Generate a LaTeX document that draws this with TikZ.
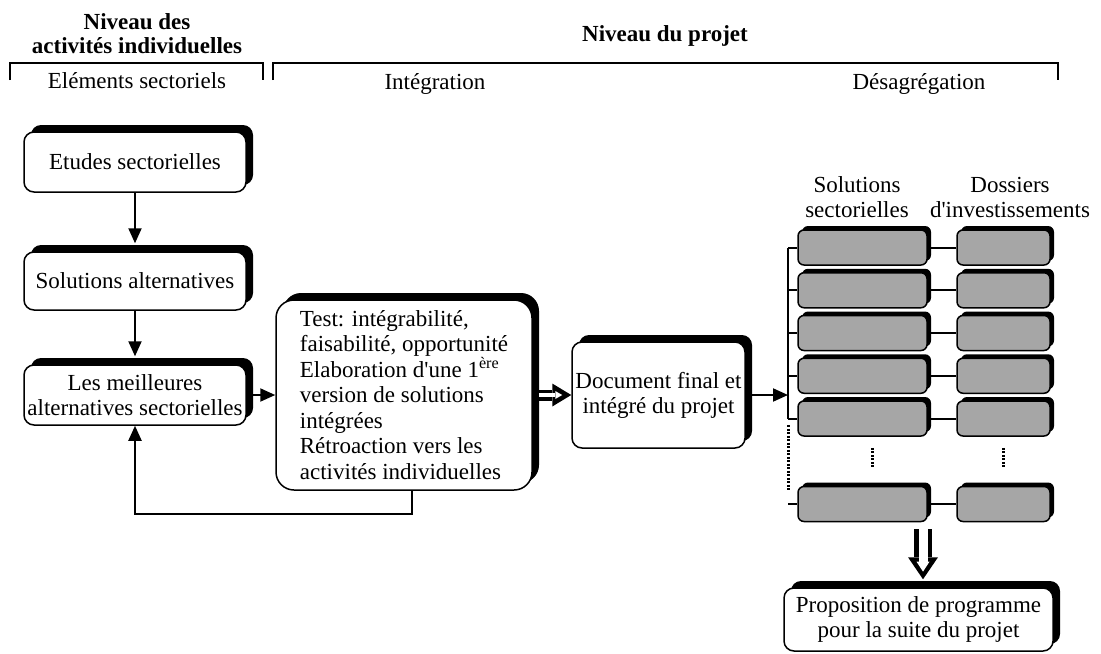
\documentclass[tikz,border=0pt]{standalone}
\usepackage{fontspec}
\setmainfont{Liberation Serif}[Ligatures=TeXOff]
\usetikzlibrary{arrows.meta,shadows}
\definecolor{cellgrey}{RGB}{166,166,166}
\tikzset{>={Triangle[length=7.5pt,width=6.5pt]}}
\tikzset{
  box/.style={draw, line width=0.75pt, fill=white, rounded corners=5pt, align=center,
    drop shadow={shadow xshift=3.5pt, shadow yshift=3.5pt, fill=black, opacity=1}},
  cell/.style={draw, line width=0.75pt, fill=cellgrey, rounded corners=3pt, minimum height=17.5pt,
    drop shadow={shadow xshift=2pt, shadow yshift=2pt, fill=black, opacity=1}},
  link/.style={line width=1pt},
  bracket/.style={line width=1.1pt},
  gap/.style={line width=1.5pt, dash pattern=on 1pt off 0.75pt},
  hdr/.style={font=\fontsize{11.5}{12}\selectfont\bfseries, align=center},
  dblarrow/.style={line width=5.5pt, -{Triangle[length=9.5pt,width=11.5pt,line width=0pt]}, shorten <=3pt,
    postaction={draw=white, line width=2pt, -{Triangle[length=3.5pt,width=4pt,line width=0pt]},
      shorten <=3pt, shorten >=4.5pt}},
  bigdbl/.style={line width=9pt, -{Triangle[length=11pt,width=15pt,line width=0pt]}, shorten >=4pt,
    postaction={draw=white, line width=4.5pt, -{Triangle[length=5pt,width=6.5pt,line width=0pt]},
      shorten >=7.8pt}}
}

\begin{document}
\begin{tikzpicture}[x=0.5pt, y=-0.5pt, font=\fontsize{11.5}{12.5}\selectfont]
\useasboundingbox (0,0) rectangle (1101,653);
% levels
\node[hdr] (lvlind) at (137,34) {Niveau des\\activités individuelles};
\node[hdr, anchor=base] (lvlproj) at (665,41) {Niveau du projet};
\draw[bracket] (10,80) -- (10,63) -- (263,63) -- (263,80);
\draw[bracket] (273,80) -- (273,63) -- (1058,63) -- (1058,80);
\node[anchor=base] (sect) at (137,88) {Eléments sectoriels};
\node[anchor=base] (integ) at (435,89) {Intégration};
\node[anchor=base] (desag) at (919,89) {Désagrégation};

% individual activities
\node[box, minimum width=111pt, minimum height=30pt] (etudes) at (135,162) {Etudes sectorielles};
\node[box, minimum width=111pt, minimum height=29pt] (solalt) at (135,281) {Solutions alternatives};
\node[box, minimum width=111pt, minimum height=30pt, inner xsep=1pt] (best) at (135,395) {Les meilleures\\alternatives sectorielles};
\draw[link,->,shorten >=4pt] (etudes) -- (solalt);
\draw[link,->,shorten >=4pt] (solalt) -- (best);

% integration
\node[box, rounded corners=9pt, minimum width=128pt, minimum height=95pt, align=left,
  font=\fontsize{11.5}{12.75}\selectfont] (test) at (404,395)
  {Test: intégrabilité,\\faisabilité, opportunité\\Elaboration d'une 1\textsuperscript{ère}\\version de solutions\\intégrées\\Rétroaction vers les\\activités individuelles};
\node[box, minimum width=86.5pt, minimum height=53pt, inner xsep=1pt] (doc) at (658.5,395) {Document final et\\intégré du projet};
\draw[link,->] (best) -- (test);
\draw[link,->] ([xshift=4pt]test.south) -- ++(0,23) -| (best.south);
\draw[dblarrow] (test.east) -- (doc.west);

% disaggregation
\node[align=center] (solhdr) at (857,197) {Solutions\\sectorielles};
\node[align=center] (doshdr) at (1010,197) {Dossiers\\d'investissements};
\coordinate (spine) at (788,0);
\foreach \i [evaluate=\i as \yy using 204.75+42.75*\i] in {1,...,5}{
  \node[cell, minimum width=64.5pt] (s\i) at (862.5,\yy) {};
  \node[cell, minimum width=46.5pt] (d\i) at (1003.5,\yy) {};
  \draw[link] (s\i.east) -- (d\i.west);
  \draw[link] (s\i.west -| spine) -- (s\i.west);
}
\node[cell, minimum width=64.5pt] (sn) at (862.5,504) {};
\node[cell, minimum width=46.5pt] (dn) at (1003.5,504) {};
\draw[link] (sn.east) -- (dn.west);
\draw[link] (sn.west -| spine) -- (sn.west);
\draw[link] (s1.west -| spine) -- (s5.west -| spine);
\draw[link,->] (doc.east) -- (doc.east -| spine);
\coordinate (gaptop) at (788,425);
\coordinate (gapbot) at (788,490);
\draw[gap] (gaptop) -- (gapbot);
\draw[gap] ([xshift=5pt,yshift=-5.5pt]s5.south) -- ([xshift=5pt,yshift=9pt]sn.north);
\draw[gap] ([yshift=-5.5pt]d5.south) -- ([yshift=9pt]dn.north);

% programme
\node[box, minimum width=134.5pt, minimum height=31.5pt] (prog) at (918.5,619.5) {Proposition de programme\\pour la suite du projet};
\coordinate (gather) at (923,529);
\draw[bigdbl] (gather) -- (gather |- prog.north);
\end{tikzpicture}
\end{document}
